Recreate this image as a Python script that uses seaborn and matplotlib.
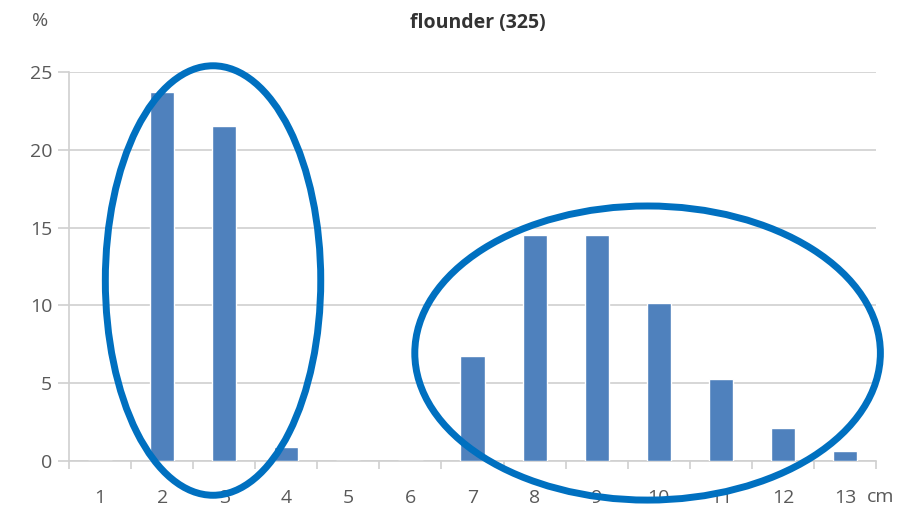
import pandas as pd
import seaborn as sns
import matplotlib.pyplot as plt
from matplotlib.patches import Ellipse
from matplotlib.ticker import FixedLocator

# Data
lengths = ['1', '2', '3', '4', '5', '6', '7', '8', '9', '10', '11', '12', '13']
percent = [0, 23.7, 21.5, 0.9, 0, 0, 6.75, 14.5, 14.5, 10.15, 5.25, 2.1, 0.65]
y_ticks = [0, 5, 10, 15, 20, 25]

df = pd.DataFrame({'length': lengths, 'percent': percent})

sns.set_theme(style='white')
plt.rcParams['font.family'] = ['Open Sans', 'DejaVu Sans']

fig = plt.figure(figsize=(9.01, 5.11), dpi=100)
ax = fig.add_axes([0.0766, 0.0978, 0.8957, 0.7613])

sns.barplot(data=df, x='length', y='percent', color='#4F81BD', saturation=1,
            width=0.39, ax=ax, zorder=3)

grey = '#595959'
line_grey = '#D0D0D0'
ax.set_ylim(0, 25)
ax.set_xlim(-0.5, len(lengths) - 0.5)
ax.set_yticks(y_ticks)
ax.yaxis.grid(True, color=line_grey, linewidth=1.2, zorder=0)
ax.set_axisbelow(True)
for side in ['top', 'right']:
    ax.spines[side].set_visible(False)
for side in ['left', 'bottom']:
    ax.spines[side].set_color(line_grey)
    ax.spines[side].set_linewidth(1.2)

ax.xaxis.set_minor_locator(FixedLocator([i - 0.5 for i in range(len(lengths) + 1)]))
ax.tick_params(axis='x', which='major', length=0, pad=20, labelsize=14, labelcolor=grey)
ax.tick_params(axis='x', which='minor', length=6, width=1.2, color=line_grey, direction='out', bottom=True)
ax.tick_params(axis='y', which='major', length=8, width=1.2, color=line_grey, direction='out',
               left=True, labelsize=14, labelcolor=grey, pad=4)
ax.set_xlabel('')
ax.set_ylabel('')

fig.text(0.044, 0.958, '%', fontsize=14, color=grey, ha='center', va='center')
fig.text(0.53, 0.955, 'flounder (325)', fontsize=14, fontweight='bold', color='#333333',
         ha='center', va='center')
fig.text(0.962, 0.027, 'cm', fontsize=14, color=grey, ha='left', va='center')

# Highlight ellipses
for (cx, cy, w, h) in [(1.82, 11.6, 3.47, 27.6), (8.82, 6.94, 7.5, 18.9)]:
    ax.add_patch(Ellipse((cx, cy), w, h, fill=False, edgecolor='#0070C0',
                         linewidth=5, clip_on=False, zorder=5))

fig.savefig('out.png', dpi=100)
plt.close(fig)
